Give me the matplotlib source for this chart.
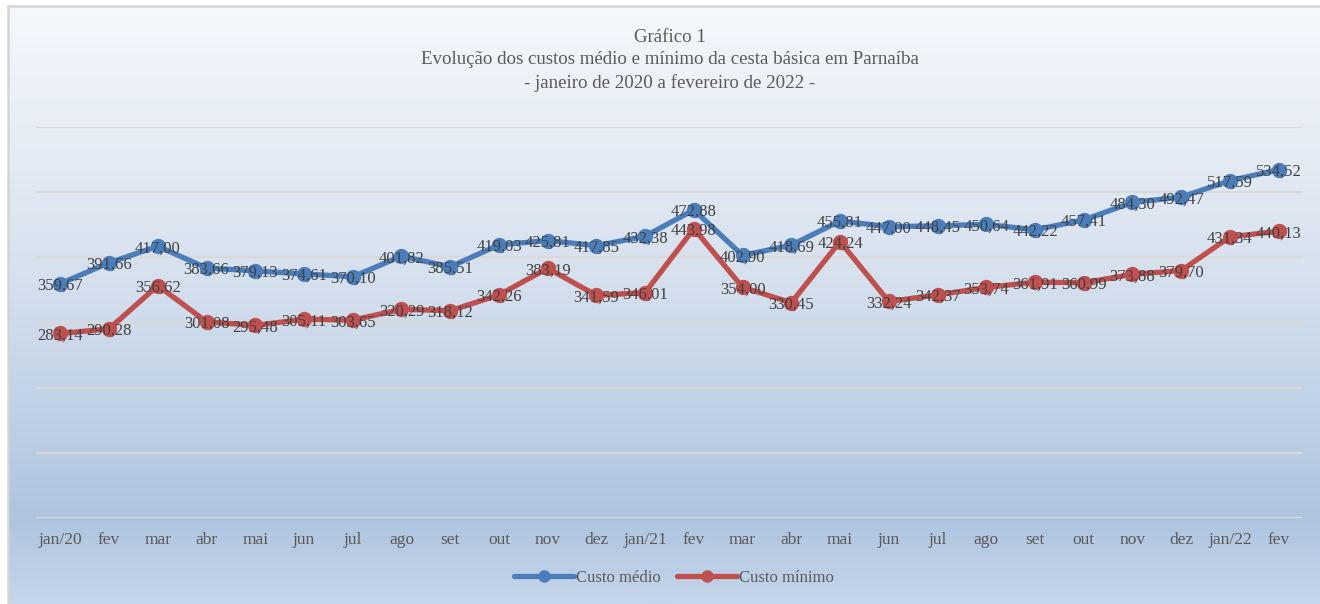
import matplotlib
matplotlib.use("Agg")
import matplotlib.pyplot as plt
import numpy as np
from matplotlib.colors import LinearSegmentedColormap
from matplotlib.patches import Rectangle

months = ["jan/20", "fev", "mar", "abr", "mai", "jun", "jul", "ago", "set", "out", "nov", "dez",
          "jan/21", "fev", "mar", "abr", "mai", "jun", "jul", "ago", "set", "out", "nov", "dez",
          "jan/22", "fev"]
custo_medio = [359.67, 391.66, 417.00, 383.66, 379.13, 374.61, 370.10, 401.82, 385.51, 419.03,
               425.81, 417.85, 432.38, 472.88, 402.90, 418.69, 455.81, 447.00, 448.45, 450.64,
               442.22, 457.41, 484.30, 492.47, 517.59, 534.52]
custo_minimo = [283.14, 290.28, 356.62, 301.08, 295.48, 305.11, 303.65, 320.29, 318.12, 342.26,
                383.19, 341.59, 346.01, 443.98, 354.00, 330.45, 424.24, 332.24, 342.37, 353.74,
                361.91, 360.99, 373.88, 379.70, 431.34, 440.13]
series_names = ["Custo médio", "Custo mínimo"]
title_lines = ["Gráfico 1",
               "Evolução dos custos médio e mínimo da cesta básica em Parnaíba",
               "- janeiro de 2020 a fevereiro de 2022 -"]

W, H = 1320, 604
fig = plt.figure(figsize=(W / 100, H / 100), dpi=100)
fig.patch.set_facecolor("white")

FONT = ["Liberation Serif", "DejaVu Serif"]

# background gradient frame
fx0, fy0 = 8 / W, 6 / H
bg = fig.add_axes([fx0, 0, 1 - fx0, 1 - fy0], zorder=0)
cmap = LinearSegmentedColormap.from_list(
    "bg", [(0.0, "#f5f8fc"), (0.45, "#d6e1ee"), (0.86, "#aec4df"), (1.0, "#c6d6ea")])
grad = np.linspace(0, 1, 400).reshape(-1, 1)
bg.imshow(grad, aspect="auto", cmap=cmap, extent=[0, 1, 0, 1], origin="upper")
bg.set_axis_off()
fig.patches.append(Rectangle((fx0, -0.01), 1.0, 1 - fy0 + 0.01, transform=fig.transFigure,
                             fill=False, edgecolor="#d4d4d4", linewidth=1.8, zorder=1))

ax = fig.add_axes([36 / W, 1 - 518 / H, (1303 - 36) / W, (518 - 127) / H], zorder=2)
ax.set_facecolor("none")
x = np.arange(len(months))

blue = "#4a7ebb"
red = "#c0504d"
ax.plot(x, custo_medio, color=blue, lw=3.8, marker="o", ms=10, label=series_names[0], zorder=3,
        solid_capstyle="round")
ax.plot(x, custo_minimo, color=red, lw=3.8, marker="o", ms=10, label=series_names[1], zorder=3,
        solid_capstyle="round")

for xs, ys in ((x, custo_medio), (x, custo_minimo)):
    for xi, yi in zip(xs, ys):
        ax.annotate(f"{yi:.2f}".replace(".", ","), (xi, yi), xytext=(0, -1.5),
                    textcoords="offset points", ha="center", va="center",
                    fontsize=12, color="#404040", family=FONT, zorder=4)

ax.set_xlim(-0.5, len(months) - 0.5)
ax.set_ylim(0, 600)
ax.set_yticks(np.arange(0, 601, 100))
ax.yaxis.grid(True, color="#d9d9d9", lw=1.6)
ax.set_axisbelow(True)
ax.tick_params(axis="y", left=False, labelleft=False)
ax.set_xticks(x)
ax.set_xticklabels(months, family=FONT, fontsize=12.5, color="#595959")
ax.tick_params(axis="x", length=0, pad=10)
for s in ax.spines.values():
    s.set_visible(False)

for i, t in enumerate(title_lines):
    fig.text(670 / W, 1 - (37 + 23 * i) / H, t, ha="center", va="center", fontsize=13.6,
             color="#595959", family=FONT)

leg = fig.legend(loc="center", bbox_to_anchor=(674 / W, 1 - 578 / H), ncol=2, frameon=False,
                 prop={"family": FONT, "size": 12}, handlelength=3.6, columnspacing=1.0,
                 handletextpad=0.1, markerscale=0.8)
for txt in leg.get_texts():
    txt.set_color("#595959")

fig.savefig("out.png", dpi=100)
